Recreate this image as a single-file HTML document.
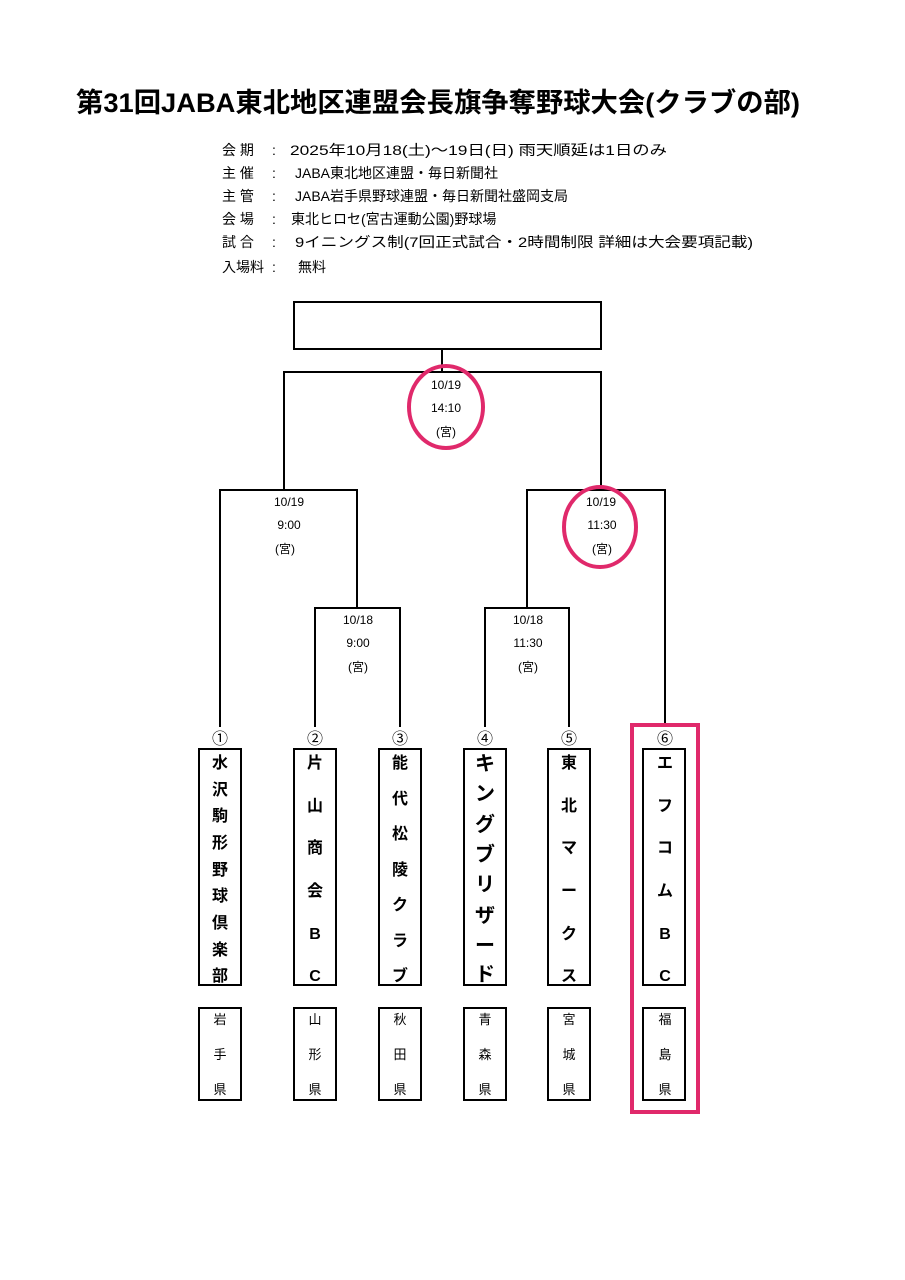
<!DOCTYPE html>
<html><head><meta charset="utf-8"><style>
html,body{margin:0;padding:0;background:#fff;}
svg{display:block;}
text{font-family:"Liberation Sans","Noto Sans CJK JP",sans-serif;fill:#000;}
</style></head><body>
<svg width="905" height="1280" viewBox="0 0 905 1280" xmlns="http://www.w3.org/2000/svg">
<text x="76" y="112" font-size="27" font-weight="bold" textLength="724" lengthAdjust="spacingAndGlyphs">第31回JABA東北地区連盟会長旗争奪野球大会(クラブの部)</text>
<g font-size="14">
<text x="222" y="155">会 期</text><text x="272" y="155">:</text><text x="290" y="155" textLength="377" lengthAdjust="spacingAndGlyphs">2025年10月18(土)～19日(日)  雨天順延は1日のみ</text>
<text x="222" y="178">主 催</text><text x="272" y="178">:</text><text x="295" y="178">JABA東北地区連盟・毎日新聞社</text>
<text x="222" y="201">主 管</text><text x="272" y="201">:</text><text x="295" y="201">JABA岩手県野球連盟・毎日新聞社盛岡支局</text>
<text x="222" y="224">会 場</text><text x="272" y="224">:</text><text x="291" y="224">東北ヒロセ(宮古運動公園)野球場</text>
<text x="222" y="247">試 合</text><text x="272" y="247">:</text><text x="295" y="247" textLength="458" lengthAdjust="spacingAndGlyphs">9イニングス制(7回正式試合・2時間制限 詳細は大会要項記載)</text>
<text x="222" y="272">入場料</text><text x="272" y="272">:</text><text x="298" y="272">無料</text>
</g>
<g fill="none" stroke="#000" stroke-width="2">
<rect x="294" y="302" width="307" height="47"/>
<path d="M442 349V372M284 490V372H601V490"/>
<path d="M220 727V490H357V608M527 608V490H665V727"/>
<path d="M315 727V608H400V727M485 727V608H569V727"/>
<rect x="199" y="749" width="42" height="236"/><rect x="294" y="749" width="42" height="236"/><rect x="379" y="749" width="42" height="236"/><rect x="464" y="749" width="42" height="236"/><rect x="548" y="749" width="42" height="236"/><rect x="643" y="749" width="42" height="236"/>
<rect x="199" y="1008" width="42" height="92"/><rect x="294" y="1008" width="42" height="92"/><rect x="379" y="1008" width="42" height="92"/><rect x="464" y="1008" width="42" height="92"/><rect x="548" y="1008" width="42" height="92"/><rect x="643" y="1008" width="42" height="92"/>
</g>
<g font-size="12" text-anchor="middle">
<text x="446" y="389">10/19</text><text x="446" y="412">14:10</text><text x="446" y="436">(宮)</text>
<text x="289" y="506">10/19</text><text x="289" y="529">9:00</text><text x="285" y="553">(宮)</text>
<text x="601" y="506">10/19</text><text x="602" y="529">11:30</text><text x="602" y="553">(宮)</text>
<text x="358" y="624">10/18</text><text x="358" y="647">9:00</text><text x="358" y="671">(宮)</text>
<text x="528" y="624">10/18</text><text x="528" y="647">11:30</text><text x="528" y="671">(宮)</text>
</g>
<g font-size="16" text-anchor="middle" style="font-family:'Noto Sans CJK JP',sans-serif">
<text x="220" y="744">①</text><text x="315" y="744">②</text><text x="400" y="744">③</text><text x="485" y="744">④</text><text x="569" y="744">⑤</text><text x="665" y="744">⑥</text>
</g>
<g font-size="16" font-weight="bold" text-anchor="middle">
<text x="220" y="768">水</text><text x="220" y="795">沢</text><text x="220" y="821">駒</text><text x="220" y="848">形</text><text x="220" y="875">野</text><text x="220" y="901">球</text><text x="220" y="928">倶</text><text x="220" y="955">楽</text><text x="220" y="981">部</text>
<text x="315" y="768">片</text><text x="315" y="811">山</text><text x="315" y="853">商</text><text x="315" y="896">会</text><text x="315" y="939">B</text><text x="315" y="981">C</text>
<text x="400" y="768">能</text><text x="400" y="804">代</text><text x="400" y="839">松</text><text x="400" y="875">陵</text><text x="400" y="910">ク</text><text x="400" y="946">ラ</text><text x="400" y="981">ブ</text>
<g font-size="20"><text x="485" y="770">キ</text><text x="485" y="800">ン</text><text x="485" y="831">グ</text><text x="485" y="861">ブ</text><text x="485" y="891">リ</text><text x="485" y="922">ザ</text><text x="485" y="952">ー</text><text x="485" y="981">ド</text></g>
<text x="569" y="768">東</text><text x="569" y="811">北</text><text x="569" y="853">マ</text><text x="569" y="896">ー</text><text x="569" y="939">ク</text><text x="569" y="981">ス</text>
<text x="665" y="768">エ</text><text x="665" y="811">フ</text><text x="665" y="853">コ</text><text x="665" y="896">ム</text><text x="665" y="939">B</text><text x="665" y="981">C</text>
</g>
<g font-size="13" text-anchor="middle">
<text x="220" y="1024">岩</text><text x="220" y="1059">手</text><text x="220" y="1094">県</text>
<text x="315" y="1024">山</text><text x="315" y="1059">形</text><text x="315" y="1094">県</text>
<text x="400" y="1024">秋</text><text x="400" y="1059">田</text><text x="400" y="1094">県</text>
<text x="485" y="1024">青</text><text x="485" y="1059">森</text><text x="485" y="1094">県</text>
<text x="569" y="1024">宮</text><text x="569" y="1059">城</text><text x="569" y="1094">県</text>
<text x="665" y="1024">福</text><text x="665" y="1059">島</text><text x="665" y="1094">県</text>
</g>
<g fill="none" stroke="#e0296b" stroke-width="4">
<ellipse cx="446" cy="407" rx="37" ry="41"/>
<ellipse cx="600" cy="527" rx="36" ry="40"/>
<rect x="632" y="725" width="66" height="387"/>
</g>
</svg>
</body></html>
